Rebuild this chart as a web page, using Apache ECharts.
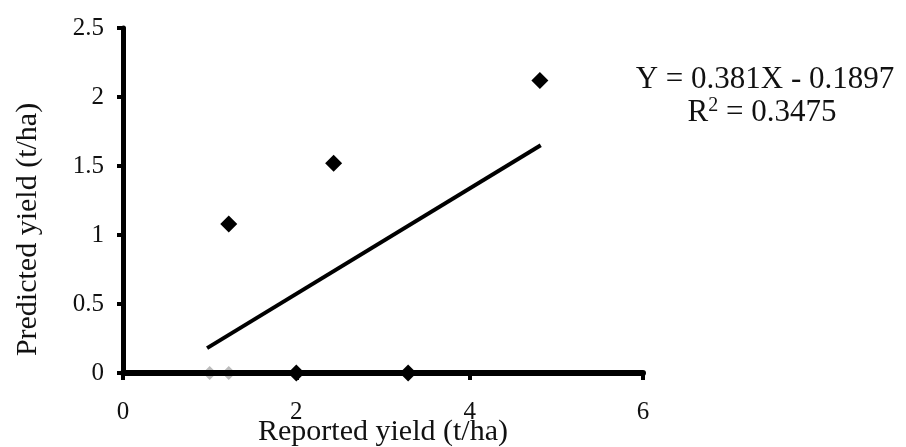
<!DOCTYPE html>
<html>
<head>
<meta charset="utf-8">
<script src="https://cdn.jsdelivr.net/npm/echarts@6/dist/echarts.min.js"></script>
<style>
html,body{margin:0;padding:0;background:#fff;}
#chart{width:906px;height:447px;}
</style>
</head>
<body>
<div id="chart"></div>
<script type="text/javascript">
// observed points (reported, predicted)
var pointsX = [1.22, 2.43, 4.81, 2.0, 3.29];
var pointsY = [1.08, 1.52, 2.12, 0, 0];
// points hidden under the axis (drawn faint)
var faintX = [1.0, 1.22];
var faintY = [0, 0];
// trend line ends
var trendX = [0.97, 4.82];
var trendY = [0.18, 1.65];
var eqLine = 'Y = 0.381X - 0.1897';
var r2Line = 'R{s|2} = 0.3475';

function pairs(xs, ys){
	var out = [];
	for (var i = 0; i < xs.length; i++) out.push([xs[i], ys[i]]);
	return out;
}

var myChart = echarts.init(document.getElementById('chart'));
var serif = 'Liberation Serif';
var option = {
	animation: false,
	backgroundColor: '#fff',
	grid: { left: 123, right: 263, top: 28, bottom: 74, containLabel: false, outerBoundsMode: 'none' },
	graphic: [{
		type: 'text',
		x: 765, y: 80,
		style: {
			text: eqLine,
			fontFamily: serif, fontSize: 31,
			fill: '#111',
			align: 'center', verticalAlign: 'middle'
		}
	}, {
		type: 'text',
		x: 762, y: 113,
		style: {
			text: r2Line,
			fontFamily: serif, fontSize: 31,
			fill: '#111',
			align: 'center', verticalAlign: 'middle',
			rich: { s: { fontFamily: serif, fontSize: 20, verticalAlign: 'top', padding: [0, 0, 14, 0] } }
		}
	}],
	xAxis: {
		type: 'value', min: 0, max: 6, interval: 2,
		z: 3,
		name: 'Reported yield (t/ha)',
		nameLocation: 'middle', nameGap: 44,
		nameMoveOverlap: false,
		nameTextStyle: { fontFamily: serif, fontSize: 30, color: '#111' },
		axisLine: { show: true, lineStyle: { color: '#000', width: 6 } },
		axisTick: { show: true, length: 7, lineStyle: { color: '#000', width: 4 } },
		axisLabel: { fontFamily: serif, fontSize: 25, color: '#111', margin: 27 },
		splitLine: { show: false }
	},
	yAxis: {
		type: 'value', min: 0, max: 2.5, interval: 0.5,
		name: 'Predicted yield (t/ha)',
		nameLocation: 'middle', nameGap: 80,
		nameTextStyle: { fontFamily: serif, fontSize: 30, color: '#111', padding: [0, 58, 0, 0] },
		axisLine: { show: true, lineStyle: { color: '#000', width: 5 } },
		axisTick: { show: true, length: 6, lineStyle: { color: '#000', width: 4 } },
		axisLabel: { fontFamily: serif, fontSize: 25, color: '#111', margin: 19 },
		splitLine: { show: false }
	},
	series: [{
		type: 'line',
		data: pairs(trendX, trendY),
		symbol: 'none',
		lineStyle: { color: '#000', width: 4 },
		z: 2
	}, {
		type: 'scatter',
		data: pairs(faintX, faintY),
		symbol: 'diamond', symbolSize: 14,
		itemStyle: { color: '#bbb', opacity: 1 },
		z: 1
	}, {
		type: 'scatter',
		data: pairs(pointsX, pointsY),
		symbol: 'diamond', symbolSize: 17,
		itemStyle: { color: '#000', opacity: 1 },
		z: 4
	}]
};
myChart.setOption(option);
</script>
</body>
</html>
